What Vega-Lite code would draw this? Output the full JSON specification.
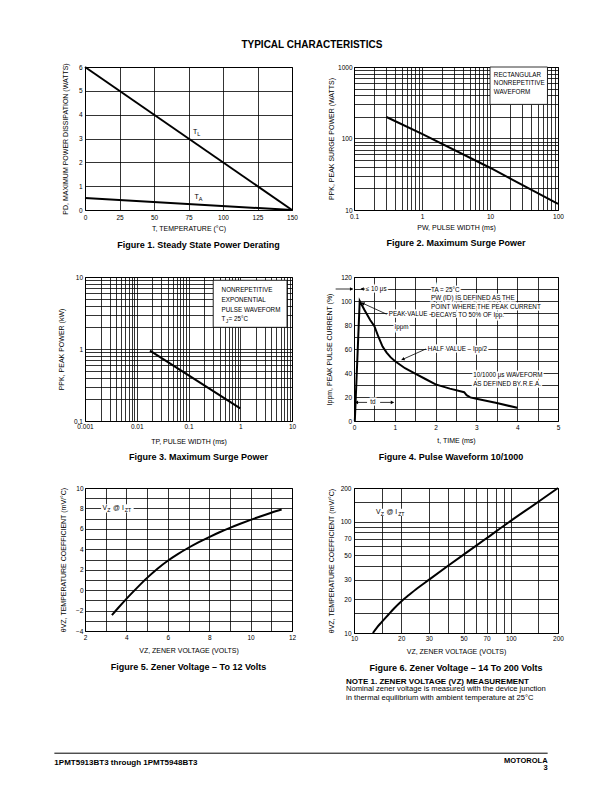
{
 "$schema": "https://vega.github.io/schema/vega-lite/v6.json",
 "padding": {"left": 53, "top": 39, "right": 5, "bottom": 5},
 "background": "white",
 "title": {"text": "TYPICAL CHARACTERISTICS", "fontSize": 10, "fontWeight": "bold", "anchor": "middle", "offset": 12.5, "dx": 3, "color": "black"},
 "columns": 2,
 "spacing": {"row": 67, "column": 62},
 "bounds": "flush",
 "align": "each",
 "config": {
  "font": "Liberation Sans",
  "view": {"stroke": "black", "strokeWidth": 1},
  "axis": {"ticks": false, "domain": false, "grid": true, "gridColor": "black", "gridOpacity": 1, "gridWidth": 0.8, "labelFontSize": 6.5, "labelColor": "black", "titleFontSize": 7, "titleFontWeight": "normal", "titleColor": "black", "labelFlush": false, "labelOverlap": false, "labelPadding": 3},
  "text": {"fontSize": 6.5, "color": "black"},
  "line": {"color": "black", "strokeWidth": 2},
  "rule": {"color": "black", "strokeWidth": 0.8},
  "point": {"filled": true, "color": "black", "opacity": 1}
 },
 "concat": [
  {
   "width": 207, "height": 143,
   "title": {"text": "Figure 1. Steady State Power Derating", "orient": "bottom", "frame": "group", "anchor": "middle", "fontSize": 9, "fontWeight": "bold", "offset": 9, "dx": 10, "color": "black"},
   "encoding": {
    "x": {"field": "x", "type": "quantitative", "scale": {"domain": [0, 150], "nice": false, "zero": false}, "axis": {"values": [0, 25, 50, 75, 100, 125, 150], "title": "T, TEMPERATURE (°C)", "labelPadding": 4, "titlePadding": 4}},
    "y": {"field": "y", "type": "quantitative", "scale": {"domain": [0, 6], "nice": false}, "axis": {"values": [0, 1, 2, 3, 4, 5, 6], "title": "PD, MAXIMUM POWER DISSIPATION (WATTS)", "labelPadding": 3, "titlePadding": 10}}
   },
   "layer": [
    {"data": {"values": [{"curve": "TL", "x": 0, "y": 6}, {"curve": "TL", "x": 150, "y": 0}, {"curve": "TA", "x": 0, "y": 0.5}, {"curve": "TA", "x": 150, "y": 0}]},
     "mark": {"type": "line", "strokeWidth": 2}, "encoding": {"detail": {"field": "curve"}}},
    {"data": {"values": [{"x": 81.3, "y": 3.29, "t": "T"}, {"x": 82.4, "y": 0.56, "t": "T"}]},
     "mark": {"type": "text", "align": "right", "baseline": "middle", "fontSize": 7}, "encoding": {"text": {"field": "t"}}},
    {"data": {"values": [{"x": 81.3, "y": 3.29, "t": "L"}, {"x": 82.4, "y": 0.56, "t": "A"}]},
     "mark": {"type": "text", "align": "left", "baseline": "middle", "fontSize": 5.5, "dy": 2}, "encoding": {"text": {"field": "t"}}}
   ]
  },
  {
   "width": 204, "height": 143,
   "title": {"text": "Figure 2. Maximum Surge Power", "orient": "bottom", "frame": "group", "anchor": "middle", "fontSize": 9, "fontWeight": "bold", "offset": 9, "color": "black"},
   "encoding": {
    "x": {"field": "x", "type": "quantitative", "scale": {"type": "log", "domain": [0.1, 100], "nice": false}, "axis": {"values": [0.1, 0.2, 0.3, 0.4, 0.5, 0.6, 0.7, 0.8, 0.9, 1, 2, 3, 4, 5, 6, 7, 8, 9, 10, 20, 30, 40, 50, 60, 70, 80, 90, 100], "format": "~g", "labelExpr": "abs(log(datum.value)/LN10 - round(log(datum.value)/LN10)) < 0.001 ? datum.label : ''", "title": "PW, PULSE WIDTH (ms)", "labelPadding": 3, "titlePadding": 3.5}},
    "y": {"field": "y", "type": "quantitative", "scale": {"type": "log", "domain": [10, 1000], "nice": false}, "axis": {"values": [10, 20, 30, 40, 50, 60, 70, 80, 90, 100, 200, 300, 400, 500, 600, 700, 800, 900, 1000], "format": "d", "labelExpr": "abs(log(datum.value)/LN10 - round(log(datum.value)/LN10)) < 0.001 ? datum.label : ''", "title": "PPK, PEAK SURGE POWER (WATTS)", "labelPadding": 2, "titlePadding": 3}}
   },
   "layer": [
    {"data": {"values": [{"x": 10, "x2": 70, "y": 300, "y2": 1000}]},
     "mark": {"type": "rect", "fill": "white", "stroke": "black", "strokeWidth": 0.8}, "encoding": {"x2": {"field": "x2"}, "y2": {"field": "y2"}}},
    {"data": {"values": [{"x": 0.3, "y": 200}, {"x": 1, "y": 116}, {"x": 10, "y": 39}, {"x": 100, "y": 12.2}]},
     "mark": {"type": "line", "strokeWidth": 2}},
    {"data": {"values": [{"x": 11.4, "y": 780, "t": "RECTANGULAR"}, {"x": 11.4, "y": 592, "t": "NONREPETITIVE"}, {"x": 11.4, "y": 443, "t": "WAVEFORM"}]},
     "mark": {"type": "text", "align": "left", "baseline": "middle", "fontSize": 6.3}, "encoding": {"text": {"field": "t"}}}
   ]
  },
  {
   "width": 207, "height": 144,
   "title": {"text": "Figure 3. Maximum Surge Power", "orient": "bottom", "frame": "group", "anchor": "middle", "fontSize": 9, "fontWeight": "bold", "offset": 9, "dx": 10, "color": "black"},
   "encoding": {
    "x": {"field": "x", "type": "quantitative", "scale": {"type": "log", "domain": [0.001, 10], "nice": false}, "axis": {"values": [0.001, 0.002, 0.003, 0.004, 0.005, 0.006, 0.007, 0.008, 0.009, 0.01, 0.02, 0.03, 0.04, 0.05, 0.06, 0.07, 0.08, 0.09, 0.1, 0.2, 0.3, 0.4, 0.5, 0.6, 0.7, 0.8, 0.9, 1, 2, 3, 4, 5, 6, 7, 8, 9, 10], "format": "~g", "labelExpr": "abs(log(datum.value)/LN10 - round(log(datum.value)/LN10)) < 0.001 ? datum.label : ''", "title": "TP, PULSE WIDTH (ms)", "labelPadding": 2.5, "titlePadding": 7}},
    "y": {"field": "y", "type": "quantitative", "scale": {"type": "log", "domain": [0.1, 10], "nice": false}, "axis": {"values": [0.1, 0.2, 0.3, 0.4, 0.5, 0.6, 0.7, 0.8, 0.9, 1, 2, 3, 4, 5, 6, 7, 8, 9, 10], "format": "~g", "labelExpr": "abs(log(datum.value)/LN10 - round(log(datum.value)/LN10)) < 0.001 ? datum.label : ''", "title": "PPK, PEAK POWER (kW)", "labelPadding": 2.5, "titlePadding": 9}}
   },
   "layer": [
    {"data": {"values": [{"x": 0.3, "x2": 8, "y": 2, "y2": 9}]},
     "mark": {"type": "rect", "fill": "white", "stroke": "black", "strokeWidth": 0.8}, "encoding": {"x2": {"field": "x2"}, "y2": {"field": "y2"}}},
    {"data": {"values": [{"x": 0.018, "y": 0.95}, {"x": 1, "y": 0.15}]},
     "mark": {"type": "line", "strokeWidth": 2}},
    {"data": {"values": [{"x": 0.436, "y": 6.53, "t": "NONREPETITIVE"}, {"x": 0.436, "y": 4.74, "t": "EXPONENTIAL"}, {"x": 0.436, "y": 3.52, "t": "PULSE WAVEFORM"}, {"x": 0.436, "y": 2.61, "t": "T"}]},
     "mark": {"type": "text", "align": "left", "baseline": "middle", "fontSize": 6.3}, "encoding": {"text": {"field": "t"}}},
    {"data": {"values": [{"x": 0.436, "y": 2.61, "t": "J"}]},
     "mark": {"type": "text", "align": "left", "baseline": "middle", "fontSize": 5, "dx": 4.2, "dy": 1.5}, "encoding": {"text": {"field": "t"}}},
    {"data": {"values": [{"x": 0.436, "y": 2.61, "t": " = 25°C"}]},
     "mark": {"type": "text", "align": "left", "baseline": "middle", "fontSize": 6.3, "dx": 7}, "encoding": {"text": {"field": "t"}}}
   ]
  },
  {
   "width": 204, "height": 144,
   "title": {"text": "Figure 4. Pulse Waveform 10/1000", "orient": "bottom", "frame": "group", "anchor": "middle", "fontSize": 9, "fontWeight": "bold", "offset": 9, "dx": -5, "color": "black"},
   "encoding": {
    "x": {"field": "x", "type": "quantitative", "scale": {"domain": [0, 5], "nice": false}, "axis": {"values": [0, 0.5, 1, 1.5, 2, 2.5, 3, 3.5, 4, 4.5, 5], "format": "~g", "labelExpr": "datum.value % 1 == 0 ? datum.label : ''", "title": "t, TIME (ms)", "labelPadding": 3, "titlePadding": 6}},
    "y": {"field": "y", "type": "quantitative", "scale": {"domain": [0, 120], "nice": false}, "axis": {"values": [0, 10, 20, 30, 40, 50, 60, 70, 80, 90, 100, 110, 120], "format": "d", "labelExpr": "datum.value % 20 == 0 ? datum.label : ''", "title": "Ippm, PEAK PULSE CURRENT (%)", "labelPadding": 2.5, "titlePadding": 8.5}}
   },
   "layer": [
    {"data": {"values": [{"x": 0.02, "y": 0}, {"x": 0.14, "y": 100}, {"x": 0.25, "y": 93}, {"x": 0.4, "y": 84}, {"x": 0.5, "y": 79}, {"x": 0.6, "y": 70}, {"x": 0.7, "y": 62}, {"x": 0.8, "y": 57}, {"x": 0.9, "y": 53}, {"x": 1.0, "y": 50}, {"x": 1.25, "y": 44}, {"x": 1.5, "y": 39.5}, {"x": 1.75, "y": 35}, {"x": 2.0, "y": 30.5}, {"x": 2.35, "y": 27}, {"x": 2.7, "y": 24}, {"x": 2.76, "y": 21.5}, {"x": 2.85, "y": 19.7}, {"x": 3.0, "y": 18.5}, {"x": 3.5, "y": 15}, {"x": 4.0, "y": 11}]},
     "mark": {"type": "line", "strokeWidth": 2}},
    {"data": {"name": "f4text"},
     "mark": {"type": "text", "align": "left", "baseline": "middle", "fontSize": 6.3, "stroke": "white", "strokeWidth": 3, "fill": "white"}, "encoding": {"text": {"field": "t"}}},
    {"data": {"name": "f4text"},
     "mark": {"type": "text", "align": "left", "baseline": "middle", "fontSize": 6.3}, "encoding": {"text": {"field": "t"}}},
    {"data": {"values": [{"x": -0.45, "y": 110, "x2": -0.03, "y2": 110}, {"x": 0.27, "y": 110, "x2": 0.17, "y2": 110}, {"x": 0.8, "y": 89, "x2": 0.19, "y2": 98.5}, {"x": 1.76, "y": 60, "x2": 1.17, "y2": 51}, {"x": 0.03, "y": 15.5, "x2": 0.32, "y2": 15.5}, {"x": 0.64, "y": 15.5, "x2": 0.97, "y2": 15.5}]},
     "mark": {"type": "rule", "strokeWidth": 0.8}, "encoding": {"x2": {"field": "x2"}, "y2": {"field": "y2"}}},
    {"data": {"values": [{"x": -0.06, "y": 110}, {"x": 0.94, "y": 15.5}]},
     "mark": {"type": "point", "shape": "triangle-right", "size": 14}},
    {"data": {"values": [{"x": 0.2, "y": 110}, {"x": 0.06, "y": 15.5}]},
     "mark": {"type": "point", "shape": "triangle-left", "size": 14}},
    {"data": {"values": [{"x": 0.23, "y": 97.9}]},
     "mark": {"type": "point", "shape": "triangle", "size": 14, "angle": 294}},
    {"data": {"values": [{"x": 1.21, "y": 51.6}]},
     "mark": {"type": "point", "shape": "triangle", "size": 14, "angle": 246}}
   ]
  },
  {
   "width": 207, "height": 143,
   "title": {"text": "Figure 5. Zener Voltage – To 12 Volts", "orient": "bottom", "frame": "group", "anchor": "middle", "fontSize": 9, "fontWeight": "bold", "offset": 9, "color": "black"},
   "encoding": {
    "x": {"field": "x", "type": "quantitative", "scale": {"domain": [2, 12], "nice": false, "zero": false}, "axis": {"values": [2, 3, 4, 5, 6, 7, 8, 9, 10, 11, 12], "labelExpr": "datum.value % 2 == 0 ? datum.label : ''", "title": "VZ, ZENER VOLTAGE (VOLTS)", "labelPadding": 3, "titlePadding": 6}},
    "y": {"field": "y", "type": "quantitative", "scale": {"domain": [-4, 10], "nice": false, "zero": false}, "axis": {"values": [-4, -3, -2, -1, 0, 1, 2, 3, 4, 5, 6, 7, 8, 9, 10], "labelExpr": "datum.value % 2 == 0 ? datum.label : ''", "title": "θVZ, TEMPERATURE COEFFICIENT (mV/°C)", "labelPadding": 2, "titlePadding": 9.5}}
   },
   "layer": [
    {"data": {"values": [{"x": 3.3, "y": -2.45}, {"x": 3.6, "y": -1.75}, {"x": 4.0, "y": -0.85}, {"x": 4.5, "y": 0.2}, {"x": 5.0, "y": 1.2}, {"x": 5.5, "y": 2.1}, {"x": 6.0, "y": 2.88}, {"x": 6.5, "y": 3.55}, {"x": 7.0, "y": 4.15}, {"x": 7.5, "y": 4.7}, {"x": 8.0, "y": 5.2}, {"x": 8.5, "y": 5.67}, {"x": 9.0, "y": 6.1}, {"x": 9.5, "y": 6.5}, {"x": 10.0, "y": 6.88}, {"x": 10.5, "y": 7.24}, {"x": 11.0, "y": 7.58}, {"x": 11.5, "y": 7.9}]},
     "mark": {"type": "line", "strokeWidth": 2, "interpolate": "monotone"}},
    {"data": {"values": [{"x": 2.78, "x2": 4.35, "y": 7.6, "y2": 8.4}]},
     "mark": {"type": "rect", "fill": "white"}, "encoding": {"x2": {"field": "x2"}, "y2": {"field": "y2"}}},
    {"data": {"values": [{"x": 2.85, "y": 8, "t": "V"}]},
     "mark": {"type": "text", "align": "left", "baseline": "middle", "fontSize": 6.8}, "encoding": {"text": {"field": "t"}}},
    {"data": {"values": [{"x": 2.85, "y": 8, "t": "Z"}]},
     "mark": {"type": "text", "align": "left", "baseline": "middle", "fontSize": 5.2, "dx": 4.7, "dy": 1.8}, "encoding": {"text": {"field": "t"}}},
    {"data": {"values": [{"x": 2.85, "y": 8, "t": "@ I"}]},
     "mark": {"type": "text", "align": "left", "baseline": "middle", "fontSize": 6.8, "dx": 10.5}, "encoding": {"text": {"field": "t"}}},
    {"data": {"values": [{"x": 2.85, "y": 8, "t": "ZT"}]},
     "mark": {"type": "text", "align": "left", "baseline": "middle", "fontSize": 5.2, "dx": 22.2, "dy": 1.8}, "encoding": {"text": {"field": "t"}}}
   ]
  },
  {
   "width": 204, "height": 145,
   "title": {"text": "Figure 6. Zener Voltage – 14 To 200 Volts", "orient": "bottom", "frame": "group", "anchor": "middle", "fontSize": 9, "fontWeight": "bold", "offset": 9, "color": "black"},
   "encoding": {
    "x": {"field": "x", "type": "quantitative", "scale": {"type": "log", "domain": [10, 200], "nice": false}, "axis": {"values": [10, 15, 20, 30, 40, 50, 60, 70, 80, 90, 100, 150, 200], "labelExpr": "indexof([10, 20, 30, 50, 70, 100, 200], datum.value) >= 0 ? datum.label : ''", "format": "d", "title": "VZ, ZENER VOLTAGE (VOLTS)", "labelPadding": 2, "titlePadding": 6}},
    "y": {"field": "y", "type": "quantitative", "scale": {"type": "log", "domain": [10, 200], "nice": false}, "axis": {"values": [10, 15, 20, 30, 40, 50, 60, 70, 80, 90, 100, 150, 200], "labelExpr": "indexof([10, 20, 30, 50, 70, 100, 200], datum.value) >= 0 ? datum.label : ''", "format": "d", "title": "θVZ, TEMPERATURE COEFFICIENT (mV/°C)", "labelPadding": 3, "titlePadding": 6}}
   },
   "layer": [
    {"data": {"values": [{"x": 13.2, "y": 10}, {"x": 14, "y": 11.2}, {"x": 15, "y": 12.5}, {"x": 16.5, "y": 14.5}, {"x": 18, "y": 16.6}, {"x": 20, "y": 19.2}, {"x": 22.5, "y": 22}, {"x": 25, "y": 24.8}, {"x": 30, "y": 30}, {"x": 40, "y": 40.3}, {"x": 50, "y": 50.5}, {"x": 70, "y": 70.8}, {"x": 100, "y": 101.5}, {"x": 150, "y": 150.5}, {"x": 200, "y": 200}]},
     "mark": {"type": "line", "strokeWidth": 2, "interpolate": "monotone"}},
    {"data": {"values": [{"x": 13.6, "x2": 21.5, "y": 112, "y2": 130}]},
     "mark": {"type": "rect", "fill": "white"}, "encoding": {"x2": {"field": "x2"}, "y2": {"field": "y2"}}},
    {"data": {"values": [{"x": 13.8, "y": 121, "t": "V"}]},
     "mark": {"type": "text", "align": "left", "baseline": "middle", "fontSize": 6.8}, "encoding": {"text": {"field": "t"}}},
    {"data": {"values": [{"x": 13.8, "y": 121, "t": "Z"}]},
     "mark": {"type": "text", "align": "left", "baseline": "middle", "fontSize": 5.2, "dx": 4.7, "dy": 1.8}, "encoding": {"text": {"field": "t"}}},
    {"data": {"values": [{"x": 13.8, "y": 121, "t": "@ I"}]},
     "mark": {"type": "text", "align": "left", "baseline": "middle", "fontSize": 6.8, "dx": 10.5}, "encoding": {"text": {"field": "t"}}},
    {"data": {"values": [{"x": 13.8, "y": 121, "t": "ZT"}]},
     "mark": {"type": "text", "align": "left", "baseline": "middle", "fontSize": 5.2, "dx": 22.2, "dy": 1.8}, "encoding": {"text": {"field": "t"}}}
   ]
  },
  {
   "width": 207, "height": 80,
   "view": {"stroke": null},
   "encoding": {
    "x": {"field": "x", "type": "quantitative", "scale": {"domain": [0, 1], "nice": false, "zero": false}, "axis": null},
    "y": {"field": "y", "type": "quantitative", "scale": {"domain": [0, 1], "nice": false, "zero": false}, "axis": null}
   },
   "layer": [
    {"data": {"values": [{"x": -0.148, "x2": 2.235, "y": 0.335}]},
     "mark": {"type": "rule", "strokeWidth": 1}, "encoding": {"x2": {"field": "x2"}}},
    {"data": {"values": [{"x": -0.148, "y": 0.209, "t": "1PMT5913BT3 through 1PMT5948BT3"}]},
     "mark": {"type": "text", "align": "left", "baseline": "middle", "fontSize": 8, "fontWeight": "bold"}, "encoding": {"text": {"field": "t"}}}
   ]
  },
  {
   "width": 204, "height": 80,
   "view": {"stroke": null},
   "encoding": {
    "x": {"field": "x", "type": "quantitative", "scale": {"domain": [0, 1], "nice": false, "zero": false}, "axis": null},
    "y": {"field": "y", "type": "quantitative", "scale": {"domain": [0, 1], "nice": false, "zero": false}, "axis": null}
   },
   "layer": [
    {"data": {"values": [{"x": 0.949, "y": 0.241, "t": "MOTOROLA"}, {"x": 0.949, "y": 0.146, "t": "3"}]},
     "mark": {"type": "text", "align": "right", "baseline": "middle", "fontSize": 7.5, "fontWeight": "bold"}, "encoding": {"text": {"field": "t"}}},
    {"data": {"values": [{"x": -0.039, "y": 1.229, "t": "NOTE 1. ZENER VOLTAGE (VZ) MEASUREMENT"}]},
     "mark": {"type": "text", "align": "left", "baseline": "middle", "fontSize": 8, "fontWeight": "bold"}, "encoding": {"text": {"field": "t"}}},
    {"data": {"values": [{"x": -0.039, "y": 1.134, "t": "Nominal zener voltage is measured with the device junction"}, {"x": -0.039, "y": 1.021, "t": "in thermal equilibrium with ambient temperature at 25°C"}]},
     "mark": {"type": "text", "align": "left", "baseline": "middle", "fontSize": 7.6}, "encoding": {"text": {"field": "t"}}}
   ]
  }
 ],
 "datasets": {
  "f4text": [
   {"x": 0.29, "y": 110, "t": "≤ 10 μs"},
   {"x": 1.89, "y": 108.9, "t": "TA = 25°C"},
   {"x": 1.89, "y": 102.8, "t": "PW (ID) IS DEFINED AS THE"},
   {"x": 1.89, "y": 95.3, "t": "POINT WHERE THE PEAK CURRENT"},
   {"x": 1.89, "y": 88.6, "t": "DECAYS TO 50% OF Ipp."},
   {"x": 0.85, "y": 88.9, "t": "PEAK VALUE –"},
   {"x": 0.99, "y": 78.3, "t": "Ippm"},
   {"x": 1.81, "y": 60.3, "t": "HALF VALUE – Ipp/2"},
   {"x": 2.92, "y": 38.1, "t": "10/1000 μs WAVEFORM"},
   {"x": 2.92, "y": 31.1, "t": "AS DEFINED BY R.E.A."},
   {"x": 0.4, "y": 15.5, "t": "td"}
  ]
 }
}
